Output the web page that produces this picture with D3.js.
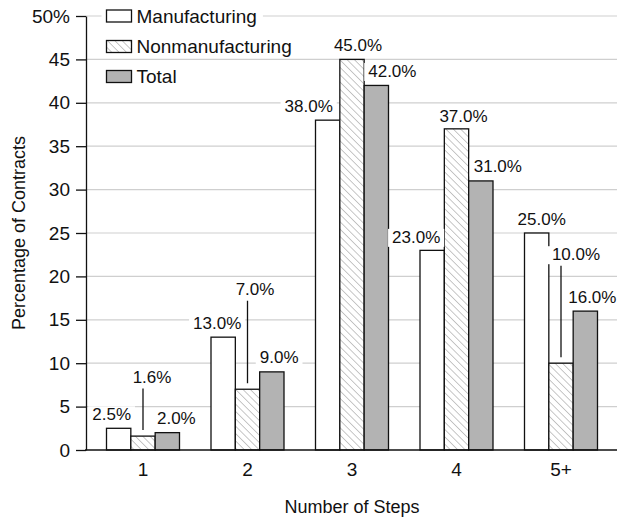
<!DOCTYPE html>
<html><head><meta charset="utf-8">
<script src="https://cdn.jsdelivr.net/npm/d3@7"></script>
<style>
html,body{margin:0;padding:0;background:#fff;}
text{font-family:"Liberation Sans",Arial,Helvetica,sans-serif;fill:#111;}
</style></head>
<body><svg id="c" width="617" height="519"></svg>
<script>
// ---- data ----
const categories = ["1","2","3","4","5+"];
const seriesNames = ["Manufacturing","Nonmanufacturing","Total"];
const manufacturing = [2.5, 13.0, 38.0, 23.0, 25.0];
const nonmanufacturing = [1.6, 7.0, 45.0, 37.0, 10.0];
const total = [2.0, 9.0, 42.0, 31.0, 16.0];
const yTicks = [0,5,10,15,20,25,30,35,40,45,50];
const yTitle = "Percentage of Contracts";
const xTitle = "Number of Steps";

// ---- label layout (pixel offsets from bar centre / bar top) ----
const labelDx = [[-7,-6,-19,-16,5],[9,7.5,6,7,15],[9,7.3,16,17,7]];
const labelDy = [[-8,-8,-8,-7.5,-8],[-53,-94,-8.5,-7,-103],[-8.5,-8.5,-8.5,-8.5,-8]];
const leader = [[false,false,false,false,false],[true,true,false,false,true],[false,false,false,false,false]];

const values = [manufacturing, nonmanufacturing, total];
const svg = d3.select("#c");
const FS = 19;   // axis, legend, titles
const VFS = 17;  // value labels

const y = d3.scaleLinear().domain([0,50]).range([450,16]);
const x = d3.scaleBand().domain(categories).range([90.75,613.25]).padding(0);
const xs = d3.scaleBand().domain(seriesNames).range([0,73]).padding(0);
const groupOffset = (x.bandwidth()-73)/2;

// pattern
const defs = svg.append("defs");
const pat = defs.append("pattern").attr("id","hatch").attr("patternUnits","userSpaceOnUse")
  .attr("width",5.2).attr("height",5.2).attr("patternTransform","rotate(-45)");
pat.append("rect").attr("width",5.2).attr("height",5.2).attr("fill","#fff");
pat.append("line").attr("x1",0).attr("y1",0).attr("x2",0).attr("y2",5.2)
  .attr("stroke","#9a9a9a").attr("stroke-width",1.1);
const fills = ["#fff","url(#hatch)","#b3b3b3"];

// gridlines
svg.append("g").selectAll("line").data(yTicks.filter(d=>d>0)).join("line")
  .attr("x1",86).attr("x2",617).attr("y1",d=>y(d)).attr("y2",d=>y(d))
  .attr("stroke","#cfcfcf").attr("stroke-width",1.2);

// y axis
const ya = svg.append("g").attr("transform","translate(86,0)")
  .call(d3.axisLeft(y).tickValues(yTicks).tickSize(10).tickSizeOuter(0).tickPadding(6)
    .tickFormat(d=>d===50?"50%":String(d)));
ya.selectAll("text").attr("font-size",FS).attr("fill","#111")
  .attr("font-family","Liberation Sans, Arial, Helvetica, sans-serif");
ya.selectAll("line").attr("stroke","#111").attr("stroke-width",1.3);
ya.select(".domain").attr("stroke","#111").attr("stroke-width",1.3);

// x axis
const xa = svg.append("g").attr("transform","translate(0,450)")
  .call(d3.axisBottom(x).tickSize(0).tickPadding(12.5));
xa.select(".domain").remove();
xa.selectAll("text").attr("font-size",FS).attr("fill","#111")
  .attr("font-family","Liberation Sans, Arial, Helvetica, sans-serif");

// bars
seriesNames.forEach((s,si)=>{
  svg.append("g").selectAll("rect").data(values[si]).join("rect")
    .attr("x",(d,i)=>x(categories[i])+groupOffset+xs(s))
    .attr("y",d=>y(d))
    .attr("width",xs.bandwidth())
    .attr("height",d=>y(0)-y(d))
    .attr("fill",fills[si]).attr("stroke","#111").attr("stroke-width",1.3);
});

// baseline
svg.append("line").attr("x1",85).attr("x2",617).attr("y1",450).attr("y2",450)
  .attr("stroke","#111").attr("stroke-width",1.5);

// value labels
const lg = svg.append("g");
seriesNames.forEach((s,si)=>{
  values[si].forEach((v,i)=>{
    const cx = x(categories[i])+groupOffset+xs(s)+xs.bandwidth()/2;
    const top = y(v);
    const tx = cx+labelDx[si][i], ty = top+labelDy[si][i];
    const g = lg.append("g");
    const bg = g.append("rect").attr("fill","#fff");
    const t = g.append("text").attr("x",tx).attr("y",ty).attr("text-anchor","middle")
      .attr("font-size",VFS).text(v.toFixed(1)+"%");
    const bb = t.node().getBBox();
    bg.attr("x",bb.x-4).attr("y",bb.y+1).attr("width",bb.width+8).attr("height",bb.height-1);
    if(leader[si][i]){
      svg.append("line").attr("x1",cx).attr("x2",cx).attr("y1",ty+5.5).attr("y2",top-6)
        .attr("stroke","#111").attr("stroke-width",1.3);
    }
  });
});

// legend
const legY = [16,46.5,76.5];
seriesNames.forEach((s,si)=>{
  const g = svg.append("g");
  const bg = g.append("rect").attr("fill","#fff");
  g.append("rect").attr("x",106.5).attr("y",legY[si]-6).attr("width",25).attr("height",12)
    .attr("fill",fills[si]).attr("stroke","#111").attr("stroke-width",1.3);
  const t = g.append("text").attr("x",136.5).attr("y",legY[si]).attr("dy","0.35em")
    .attr("font-size",FS).text(s);
  const bb = t.node().getBBox();
  bg.attr("x",101.5).attr("y",legY[si]-11).attr("width",bb.x+bb.width+6-101.5).attr("height",22);
});

// axis titles
svg.append("text").attr("transform","translate(25,233) rotate(-90)").attr("text-anchor","middle")
  .attr("font-size",FS-1).text(yTitle);
svg.append("text").attr("x",352).attr("y",513).attr("text-anchor","middle")
  .attr("font-size",FS-1).text(xTitle);
</script></body></html>
